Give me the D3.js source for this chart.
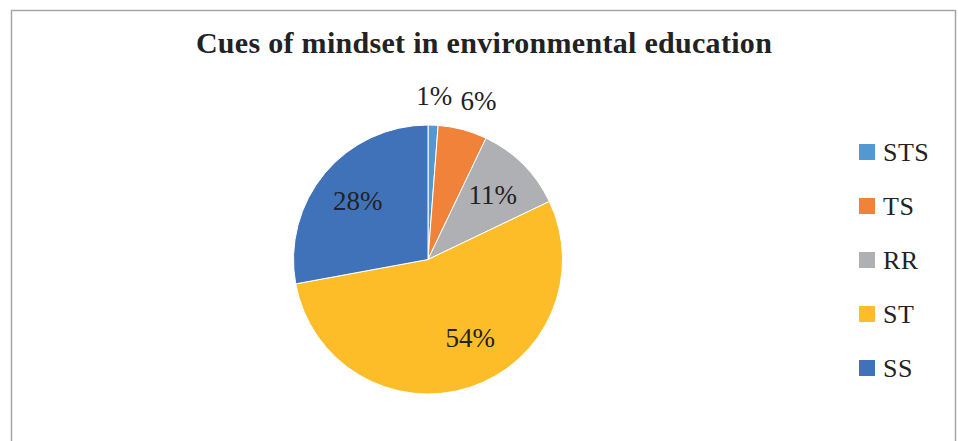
<!DOCTYPE html>
<html>
<head>
<meta charset="utf-8">
<script src="https://cdn.jsdelivr.net/npm/d3@7"></script>
<style>
  body { margin: 0; background: #fff; }
  svg { display: block; }
</style>
</head>
<body>
<svg class="viz" width="958" height="441"></svg>
<script>
// data (percent of total)
var categories = ["STS", "TS", "RR", "ST", "SS"];
var values = [1.2, 5.9, 10.8, 54.2, 27.9];
var colors = ["#5498D3", "#F08339", "#AFB0B3", "#FDBD28", "#3F72B9"];
var title = "Cues of mindset in environmental education";

var svg = d3.select(".viz"),
    width = +svg.attr("width"),
    height = +svg.attr("height");

var serif = "'Liberation Serif', 'DejaVu Serif', serif";

// chart frame
svg.append("rect")
    .attr("x", 11.5)
    .attr("y", 10.5)
    .attr("width", 944)
    .attr("height", 460)
    .attr("fill", "#fff")
    .attr("stroke", "#A6A6A6")
    .attr("stroke-width", 1.5);

svg.append("text")
    .attr("x", 484)
    .attr("y", 53)
    .attr("text-anchor", "middle")
    .attr("font-family", serif)
    .attr("font-weight", "bold")
    .attr("font-size", "30px")
    .attr("letter-spacing", "0.3px")
    .attr("fill", "#222")
    .text(title);

var dataset = categories.map(function(c, i) {
  return {name: c, value: values[i], color: colors[i]};
});
var total = d3.sum(values);

var cx = 428, cy = 259.5, radius = 134.5;

var pie = d3.pie()
    .sort(null)
    .value(function(d) { return d.value; });

var arc = d3.arc().innerRadius(0).outerRadius(radius);
var inLabel = d3.arc().innerRadius(radius * 0.68).outerRadius(radius * 0.68);
var outLabel = d3.arc().innerRadius(radius + 30).outerRadius(radius + 30);

var g = svg.append("g")
    .attr("transform", "translate(" + cx + "," + cy + ")");

var arcs = pie(dataset);

g.selectAll("path")
    .data(arcs)
  .enter().append("path")
    .attr("d", arc)
    .attr("fill", function(d) { return d.data.color; })
    .attr("stroke", "#fff")
    .attr("stroke-width", 1);

g.selectAll("text.lbl")
    .data(arcs)
  .enter().append("text")
    .attr("class", "lbl")
    .attr("transform", function(d) {
      var share = d.data.value / total;
      var small = share < 0.08;
      var p = small ? outLabel.centroid(d) : inLabel.centroid(d);
      if (small) p[0] += d.data.value > 3 ? 8 : 0;
      // the largest slice label sits a little nearer the top, as in Excel
      if (share > 0.5) { p[0] += 14; p[1] -= 9; }
      return "translate(" + p[0] + "," + p[1] + ")";
    })
    .attr("text-anchor", "middle")
    .attr("dy", "0.35em")
    .attr("font-family", serif)
    .attr("font-size", "27px")
    .attr("fill", "#222")
    .text(function(d) { return Math.round(d.data.value / total * 100) + "%"; });

// legend
var legend = svg.append("g")
    .attr("transform", "translate(859,152)");

var item = legend.selectAll("g")
    .data(dataset)
  .enter().append("g")
    .attr("transform", function(d, i) { return "translate(0," + (i * 54) + ")"; });

item.append("rect")
    .attr("x", 0)
    .attr("y", -8)
    .attr("width", 16)
    .attr("height", 16)
    .attr("fill", function(d) { return d.color; });

item.append("text")
    .attr("x", 24)
    .attr("dy", "0.35em")
    .attr("font-family", serif)
    .attr("font-size", "26px")
    .attr("letter-spacing", "0.5px")
    .attr("fill", "#222")
    .text(function(d) { return d.name; });
</script>
</body>
</html>
